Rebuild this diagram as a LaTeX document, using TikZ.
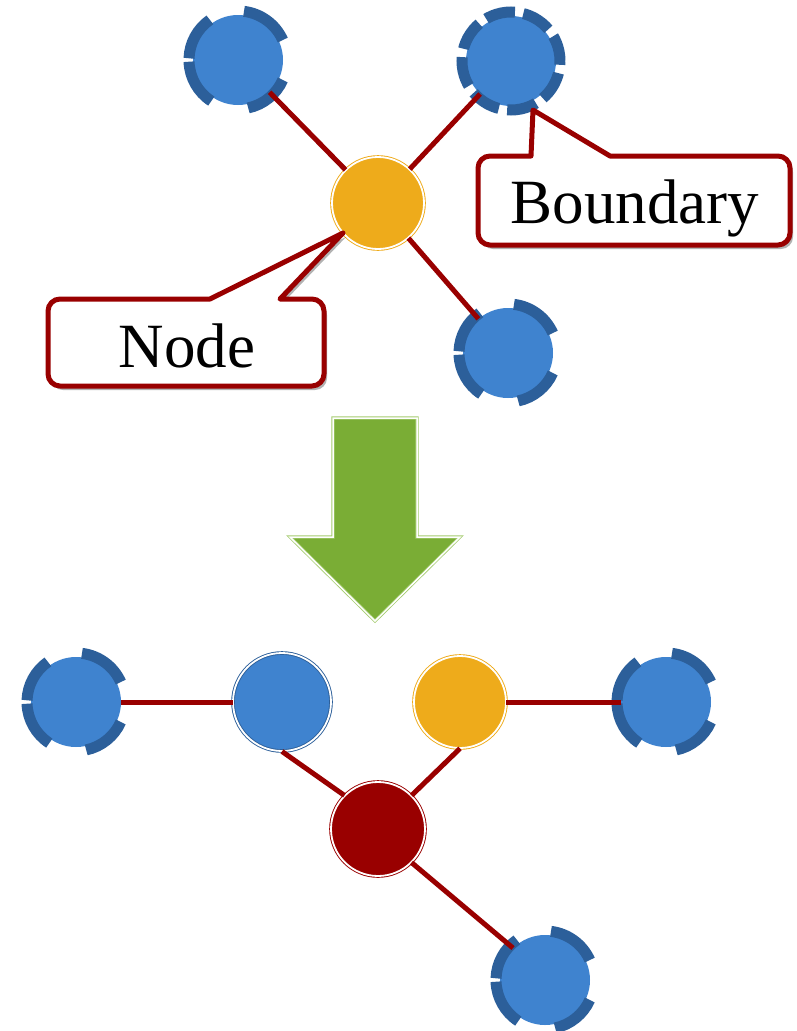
\documentclass[tikz,border=0pt]{standalone}
\usepackage{fontspec}
\setmainfont{Liberation Serif}
\usetikzlibrary{shadows}

\definecolor{nodeblue}{HTML}{3F83CF}
\definecolor{ringblue}{HTML}{2C5F9A}
\definecolor{nodeorange}{HTML}{EEAB1B}
\definecolor{edgered}{HTML}{990000}
\definecolor{arrowgreen}{HTML}{7AAD35}
\definecolor{arrowedge}{HTML}{A4CB6E}

% four boundary pieces round a blue node
\newcommand{\partring}[1]{%
  \foreach \a/\b in {24/83,125/178,182/237,282/336}
    \draw[ring] (#1.center) ++(\a:49) arc[start angle=\a,end angle=\b,radius=49];}

\begin{document}
\begin{tikzpicture}[x=1pt,y=1pt,
    bluenode/.style={circle,fill=nodeblue,minimum size=90pt,inner sep=0pt},
    dblnode/.style={circle,minimum size=#1,inner sep=0pt,line width=0.9pt,double=white,double distance=1.8pt},
    ring/.style={ringblue,line width=11pt},
    link/.style={edgered,line width=5pt},
    callout/.style={edgered,line width=5pt,fill=white,line join=round,
        drop shadow={shadow xshift=3pt,shadow yshift=-4pt,opacity=.3,fill=black}},
    tag/.style={font=\fontsize{63}{63}\selectfont,anchor=base,inner sep=0pt}]
\useasboundingbox (0,0) rectangle (796,-1031);

% before
\node[bluenode] (tl) at (238,-60) {};
\node[bluenode] (tr) at (511,-61) {};
\node[bluenode] (br) at (508,-353) {};
\node[dblnode=92pt,fill=nodeorange,draw=nodeorange] (hub) at (378,-203) {};
\partring{tl}
\partring{br}
\draw[ring,dash pattern=on 30pt off 8.5pt,dash phase=4pt] (tr) circle (49);

\draw[link] (tl) -- (hub);
\draw[link] (hub) -- (tr);
\draw[link] (hub) -- (br);

\draw[callout] (533,-110) -- (610,-156) [rounded corners=12pt] -- (790,-156) -- (790,-245)
    -- (478,-245) -- (478,-156) [sharp corners] -- (531,-156) -- cycle;
\node[tag] (boundtag) at (635,-223) {Boundary};

\draw[callout] (343,-233) -- (280,-299) [rounded corners=12pt] -- (324,-299) -- (324,-386)
    -- (48,-386) -- (48,-299) [sharp corners] -- (210,-299) -- cycle;
\node[tag] (nodetag) at (187,-367) {Node};

% step
\filldraw[fill=arrowgreen,draw=arrowedge,line width=0.8pt,double=white,double distance=1.5pt]
    (333,-418) -- (417,-418) -- (417,-537) -- (460,-537) -- (375,-621) -- (290,-537)
    -- (333,-537) -- cycle;

% after
\node[bluenode] (bl) at (76,-702) {};
\node[bluenode] (bright) at (666,-702) {};
\node[bluenode] (bb) at (545,-980) {};
\node[dblnode=98pt,fill=nodeblue,draw=ringblue] (bdbl) at (282,-702) {};
\node[dblnode=92pt,fill=nodeorange,draw=nodeorange] (borg) at (460,-702) {};
\node[dblnode=94pt,fill=edgered,draw=edgered] (bred) at (378,-829) {};
\partring{bl}
\partring{bright}
\partring{bb}

\draw[link] (bl) -- (bdbl);
\draw[link] (borg) -- (bright);
\draw[link] (bdbl.south) -- (bred.north west);
\draw[link] (borg.south) -- (bred.north east);
\draw[link] (bred.south east) -- (bb.north west);
\end{tikzpicture}
\end{document}
